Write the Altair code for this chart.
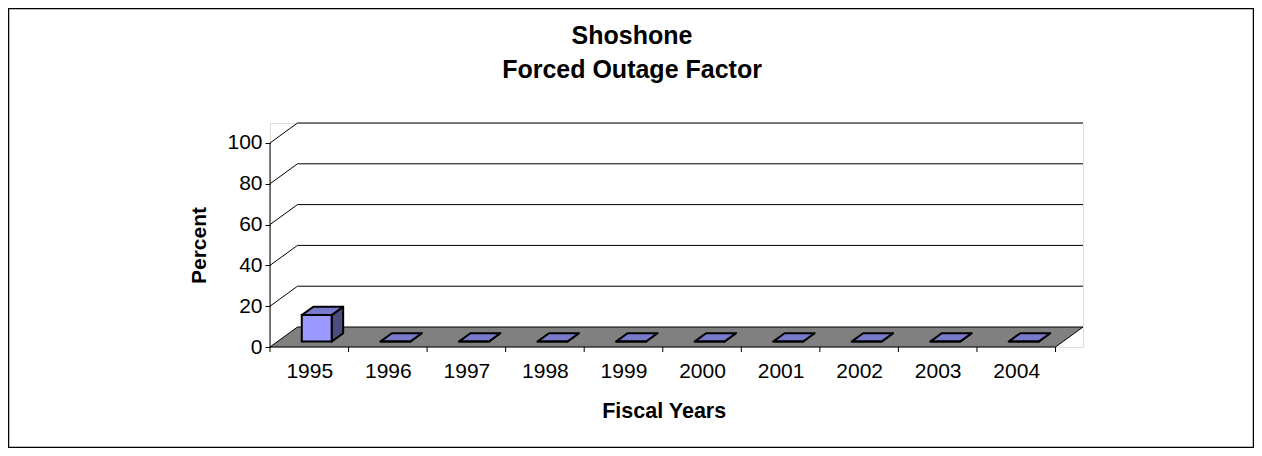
import altair as alt
import pandas as pd

# ---- data ----
years = ["1995", "1996", "1997", "1998", "1999", "2000", "2001", "2002", "2003", "2004"]
values = [13, 0, 0, 0, 0, 0, 0, 0, 0, 0]
y_ticks = [0, 20, 40, 60, 80, 100]
title_lines = ["Shoshone", "Forced Outage Factor"]
y_title = "Percent"
x_title = "Fiscal Years"

# ---- 3-D style geometry (not data) ----
PLOT_W, PLOT_H = 813, 224
N = len(years)
DX = 0.35      # depth of the floor, in category units
DY = 9.8       # depth of the floor, in value units
Y_MAX = 100
BAR_W = 0.38   # bar width, in category units
F0, F1 = 0.27, 0.69  # front/back of the bars as fraction of floor depth

FONT = "Liberation Sans"
FRONT = "#9999ff"
TOP = "#7a7acc"
SIDE = "#4c4c80"

x_scale = alt.Scale(domain=[0, N + DX], nice=False, zero=False)
y_scale = alt.Scale(domain=[0, Y_MAX + DY], nice=False, zero=False)

label_array = "[" + ",".join("'%s'" % y for y in years) + "]"
x_axis = alt.Axis(values=[i + 0.5 for i in range(N)], labelExpr=label_array + "[floor(datum.value)]",
                  ticks=False, tickSize=0, domain=False, grid=False, labelPadding=13,
                  labelFontSize=21, labelFont=FONT, labelColor="black",
                  title=x_title, titleFontSize=21.5, titleFont=FONT, titleFontWeight="bold",
                  titleColor="black", titleX=393.7, titleY=70, titleBaseline="alphabetic",
                  labelFlush=False, labelOverlap=False)
y_axis = alt.Axis(values=y_ticks, domain=False, grid=False, tickSize=5, tickColor="black",
                  labelPadding=3, labelFontSize=21, labelFont=FONT, labelColor="black",
                  title=y_title, titleFontSize=21, titleFont=FONT, titleFontWeight="bold",
                  titleColor="black", titleX=-65, titleY=122, titleBaseline="alphabetic",
                  titleAngle=-90, titleAlign="center", labelFlush=False)


def X(f):
    return alt.X(f, type="quantitative", scale=x_scale, axis=x_axis, stack=None)


def Y(f):
    return alt.Y(f, type="quantitative", scale=y_scale, axis=y_axis, stack=None)


# gridlines on side wall and back wall
grid_rows = []
for g in y_ticks[1:]:
    grid_rows += [{"g": g, "o": 0, "x": 0, "y": g},
                  {"g": g, "o": 1, "x": DX, "y": g + DY},
                  {"g": g, "o": 2, "x": N + DX, "y": g + DY}]
grid_df = pd.DataFrame(grid_rows)

floor_df = pd.DataFrame([{"y": 0, "x": 0, "x2": N}, {"y": DY, "x": DX, "x2": N + DX}])

front_rows, side_rows, top_rows = [], [], []
for i, (yr, v) in enumerate(zip(years, values)):
    xl = i + 0.5 - BAR_W / 2
    xr = i + 0.5 + BAR_W / 2
    front_rows.append({"year": yr, "x": xl + F0 * DX, "x2": xr + F0 * DX, "y": F0 * DY, "y2": v + F0 * DY})
    for f in (F0, F1):
        side_rows.append({"year": yr, "x": xr + f * DX, "y": f * DY, "y2": v + f * DY})
        top_rows.append({"year": yr, "y": v + f * DY, "x": xl + f * DX, "x2": xr + f * DX})
front_df = pd.DataFrame(front_rows)
side_df = pd.DataFrame(side_rows)
top_df = pd.DataFrame(top_rows)

tick_df = pd.DataFrame({"x": list(range(N + 1))})
axis_df = pd.DataFrame([{"x": 0, "y": 0, "y2": Y_MAX}])
one_df = pd.DataFrame([{"a": 1}])

frame = alt.Chart(one_df).mark_rect(fillOpacity=0, stroke="black", strokeWidth=1.5).encode(
    x=alt.value(-261.5), x2=alt.value(983.5), y=alt.value(-114.5), y2=alt.value(324.5))

title_layers = [
    alt.Chart(one_df).mark_text(font=FONT, fontSize=25, fontWeight="bold", color="black",
                                align="center", baseline="alphabetic").encode(
        text=alt.value(line), x=alt.value(362), y=alt.value(ypix))
    for line, ypix in zip(title_lines, [-79, -45])
]

grid = alt.Chart(grid_df).mark_line(color="black", strokeWidth=1).encode(
    x=X("x"), y=Y("y"), detail="g:N", order="o:Q")

floor = alt.Chart(floor_df).mark_area(orient="horizontal", fill="#808080", stroke="black",
                                      strokeWidth=1).encode(y=Y("y"), x=X("x"), x2="x2")

yline = alt.Chart(axis_df).mark_rule(color="black", strokeWidth=1).encode(x=X("x"), y=Y("y"), y2="y2")

xticks = alt.Chart(tick_df).mark_rule(color="black", strokeWidth=1).encode(
    x=X("x"), y=alt.value(PLOT_H), y2=alt.value(PLOT_H + 5))

side = alt.Chart(side_df).mark_area(orient="vertical", fill=SIDE, stroke="black", strokeWidth=2,
                                    strokeJoin="round").encode(x=X("x"), y=Y("y"), y2="y2", detail="year:N")
top = alt.Chart(top_df).mark_area(orient="horizontal", fill=TOP, stroke="black", strokeWidth=2,
                                  strokeJoin="round").encode(y=Y("y"), x=X("x"), x2="x2", detail="year:N")
front = alt.Chart(front_df).mark_rect(fill=FRONT, stroke="black", strokeWidth=2).encode(
    x=X("x"), x2="x2", y=Y("y"), y2="y2")

chart = alt.layer(frame, grid, floor, yline, xticks, side, top, front, *title_layers).properties(
    width=PLOT_W, height=PLOT_H,
    autosize=alt.AutoSizeParams(type="none"),
    padding={"left": 262, "top": 115, "right": 171, "bottom": 101},
).configure_view(stroke=None).configure(background="white")

chart.save("out.html", embed_options={"renderer": "svg", "actions": False})
